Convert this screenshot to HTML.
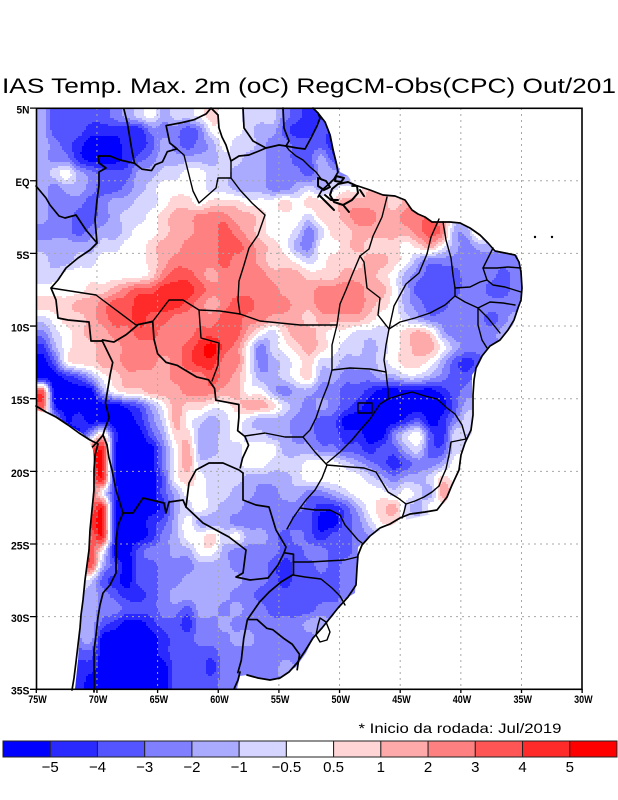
<!DOCTYPE html>
<html><head><meta charset="utf-8">
<style>
html,body{margin:0;padding:0;background:#fff;width:618px;height:800px;overflow:hidden}
svg{display:block}
text{font-family:"Liberation Sans",Arial,sans-serif;fill:#000}
</style></head>
<body>
<svg width="618" height="800" viewBox="0 0 618 800" xmlns="http://www.w3.org/2000/svg">
<defs>
<clipPath id="mk"><polygon points="36,108 312,108 318,112 326,122 331,135 334,150 337,162 340,172 348,176 352,182 358,186 370,190 383,195 395,196 405,200 412,210 418,214 425,217 432,222 440,222 457,223 470,228 480,235 488,243 495,251 505,253 517,255 520,265 522,288 519,308 513,325 500,341 487,348 478,366 472,375 472,433 463,447 460,473 452,487 447,500 437,513 400,521 390,526 377,532 367,539 358,547 357,567 355,593 343,600 333,616 323,627 316,633 306,653 296,667 289,672 280,678 270,680 258,678 247,675 240,676 237,689 75,689 78,660 80,630 82,610 84,590 87,565 90,540 92,515 93,490 94,465 93,450 89,441 83,434 69,425 56,418 46,413 36,410"/></clipPath>
</defs>
<rect width="618" height="800" fill="#fff"/>

<text x="2" y="93" font-size="21" textLength="614" lengthAdjust="spacingAndGlyphs">IAS Temp. Max. 2m (oC) RegCM-Obs(CPC) Out/201</text>

<g clip-path="url(#mk)"><g id="cells" shape-rendering="crispEdges"></g></g>

<g stroke="#a8a8a8" stroke-width="1" stroke-dasharray="2,4" fill="none">
<path d="M96.95 108V689M157.6 108V689M218.25 108V689M278.9 108V689M339.55 108V689M400.2 108V689M460.85 108V689M521.5 108V689"/>
<path d="M36 180.75H582M36 253.4H582M36 326.05H582M36 398.7H582M36 471.35H582M36 544H582M36 616.65H582"/>
</g>

<g fill="none" stroke="#000" stroke-width="1.7" stroke-linejoin="round" stroke-linecap="round">
<polyline points="313,108 318,113 325,122 330,135 333,150 336,162 338,172 334,179 329,184 322,190 318,197"/>
<polyline points="352,186 358,186 370,190 383,195 395,196 405,200 412,210 418,214 425,217 432,222 440,222 450,222 460,223 470,228 480,235 488,243 495,251 505,253 515,255 519,262 521,272 522,288 521,300 518,308 514,320 508,330 500,340 490,346 482,356 476,368 474,380 473,395 473,415 471,430 465,443 461,455 459,470 452,485 447,497 437,510 425,512 410,514 400,518 390,524 380,528 370,536 362,545 358,555 357,568 356,585 348,597 338,608 330,618 322,628 313,638 305,651 297,663 289,672 280,678 270,680 258,678 247,675"/>
<polyline points="240,672 238,680 234,689"/>
<polyline points="36,406 46,412 56,417 68,425 79,433 90,440 98,444 95,455 94,470 94,490 92,510 90,530 89,550 87,565 85,580 83,600 81,615 80,628 78,645 76,662 74,678 72,690"/>
<polyline stroke-width="2" points="332,189 338,184 348,182 357,186 358,193 352,200 343,205 334,202 330,195 332,189"/>
<polyline stroke-width="2" points="318,178 326,181 330,187 324,190 318,186 318,178"/>
<polyline stroke-width="2" points="336,176 344,178 341,182 335,181 336,176"/>
<polyline stroke-width="2" points="320,196 327,203 334,210"/>
<polyline stroke-width="2" points="344,206 349,212"/>
<polyline stroke-width="2" points="360,190 364,196"/>
<polyline stroke-width="2" points="325,195 331,200 338,200"/>
<polyline points="134.6,163.3 120,160 110,156 98,156 99,163 106,168 99,172 99,185 97,200 95,220 97,243 90,250 78,258 66,268 58,280 51,288 56,300 58,318 68,320 89,322 91,341 102,341"/>
<polyline points="97,243 86,230 76,215 65,218 59,216 50,205 46,198 36,186"/>
<polyline points="211,108 218,115 219,128 222,137 226,145 231,161 239,156 249,155 259,151 266,148 279,145 286,146 297,148 305,149 311,138 317,126 320,118 318,113"/>
<polyline points="243,108 244,128 253,141 266,148"/>
<polyline points="283,108 284,128 289,141 286,146"/>
<polyline points="103,435 107,445 109,458 112,470 116,490 123,513 118,525 116,540 116,573 110,585 103,593 100,605 98,617 96,635 94,650 94,670 94,692"/>
<polyline points="123,513 133,513 143,498 164,503 166,513 169,502 183,500 186,507"/>
<polyline points="186,507 189,483 196,470 209,463 223,463 239,470 243,473"/>
<polyline points="186,507 203,523 229,537 246,550 243,573 236,577 250,580 268,578 278,565 284,553"/>
<polyline points="243,473 243,500 256,505 269,507 276,530 286,547 284,553"/>
</g>
<g fill="none" stroke="#000" stroke-width="1.4" stroke-linejoin="round" stroke-linecap="round">
<polyline points="177,149 184,155 188,171 193,191 199,203 216,188 218,178 231,178 231,161"/>
<polyline points="231,178 240,190 252,203 265,215 258,235 249,248 244,265 239,281 238,300 240,314"/>
<polyline points="240,314 220,311 199,310 183,300 169,300 153,321 136,325 96,295 51,288"/>
<polyline points="199,310 201,338 219,343 218,365 212,381"/>
<polyline points="240,314 260,321 300,325 337,325"/>
<polyline points="360,256 352,275 346,290 340,304 337,325 332,345 332,370"/>
<polyline points="387,197 382,217 373,236 369,249 360,256"/>
<polyline points="360,256 364,262 367,288 380,298 378,315 389,329"/>
<polyline points="439,219 431,237 427,254 419,273 406,284 394,306 389,329"/>
<polyline points="443,222 446,240 451,258 453,275 455,288"/>
<polyline points="389,329 400,322 415,318 430,313 445,305 455,296 455,288"/>
<polyline points="493,248 488,258 483,268 487,280"/>
<polyline points="455,288 470,287 480,282 487,280"/>
<polyline points="483,268 497,268 508,267 521,268"/>
<polyline points="487,280 493,285 505,287 521,292"/>
<polyline points="455,296 465,302 478,308 490,302 503,303 515,305"/>
<polyline points="478,308 488,318 500,333"/>
<polyline points="478,308 478,325 482,340 487,348"/>
<polyline points="389,329 386,345 384,360 386,372 388,390 388,399"/>
<polyline points="332,370 350,368 370,369 386,372"/>
<polyline points="332,370 328,385 322,400 316,418 310,430 303,437 315,452 327,465"/>
<polyline points="388,399 400,395 412,392 425,396 437,399 447,408 455,414 462,425 466,439"/>
<polyline points="388,399 380,404 376,410 370,419 362,428 352,440 340,452 327,463"/>
<polyline points="358,403 372,403 372,413 358,413 358,403"/>
<polyline points="466,439 451,442 449,455 446,469 442,478 439,486"/>
<polyline points="439,486 432,492 424,497 415,501 406,504 404,512 402,518"/>
<polyline points="406,504 398,498 388,492 382,482 376,472 364,468 350,467 327,465"/>
<polyline points="245,436 265,433 285,437 303,437"/>
<polyline points="327,465 322,478 315,490 306,500 300,508 293,518 287,529"/>
<polyline points="300,508 315,510 330,510 340,515 345,525 352,533 358,540 362,543"/>
<polyline points="293,562 310,562 327,561 345,560 357,557"/>
<polyline points="293,575 305,577 321,579 332,588 340,596 345,605"/>
<polyline points="286,146 289,150 296,156 303,160 310,167 316,172 322,180"/>
<polyline points="320,618 326,622 330,632 327,640 320,642 316,635 318,625 320,618"/>
</g>
<g transform="translate(36.3,108.1) scale(12.13,-14.53) translate(75,-5)" fill="none" stroke="#000" stroke-linejoin="round">
<polyline vector-effect="non-scaling-stroke" stroke-width="1.7" points="-67.8,5 -67.5,4 -67.3,3 -67.1,2 -66.9,1.2 -66.3,0.8 -65.5,0.7 -65.2,1.1 -64.6,1.3 -64.2,2 -63.4,2.2 -64,2.6 -64.3,3.8 -63,4 -62,4.2 -61,4.6 -60.6,5"/>
<polyline vector-effect="non-scaling-stroke" stroke-width="1.7" points="-69.6,-10.95 -68.7,-12.5 -68.9,-13.3 -69.1,-14.3 -69.3,-15.3 -69.0,-16.3 -69.4,-17.2 -69.5,-17.5 -70.0,-18.0 -70.4,-18.35"/>
<polyline vector-effect="non-scaling-stroke" stroke-width="1.7" points="-69.6,-10.95 -68.6,-11.1 -67.6,-10.6 -66.6,-9.9 -65.4,-9.7 -65.3,-10.9 -65.0,-11.9 -64.3,-12.5 -63.4,-12.7 -62.8,-13.0 -61.8,-13.5 -60.8,-13.7 -60.3,-14.3 -60.2,-15.1 -58.3,-15.4 -58.3,-16.3 -58.4,-17.2 -57.8,-17.6 -57.5,-18.2 -58.0,-19.1 -58.2,-19.8"/>
<polyline vector-effect="non-scaling-stroke" stroke-width="1.7" points="-54.6,-25.6 -53.8,-25.7 -53.8,-27.1 -54.8,-27.6 -55.8,-28.3 -56.6,-29.0 -57.6,-30.2"/>
<polyline vector-effect="non-scaling-stroke" stroke-width="1.7" points="-57.6,-30.2 -57.9,-31.5 -58.1,-33 -58.4,-33.9"/>
<polyline vector-effect="non-scaling-stroke" stroke-width="1.7" points="-57.6,-30.2 -56.8,-30.2 -56,-30.8 -55.5,-30.9 -54.6,-31.5 -53.9,-31.9 -53.3,-32.6 -53.5,-33.7"/>
</g>
<circle cx="535" cy="237" r="1.2" fill="#000"/>
<circle cx="552" cy="237" r="1.2" fill="#000"/>

<rect x="36.5" y="108.3" width="545.5" height="581" fill="none" stroke="#000" stroke-width="1.6"/>
<g stroke="#000" stroke-width="1.3">
<path d="M30 108.1H36.5M30 180.75H36.5M30 253.4H36.5M30 326.05H36.5M30 398.7H36.5M30 471.35H36.5M30 544H36.5M30 616.65H36.5M30 689.3H36.5"/>
<path d="M36.3 689V693M96.95 689V693M157.6 689V693M218.25 689V693M278.9 689V693M339.55 689V693M400.2 689V693M460.85 689V693M521.5 689V693M582.15 689V693"/>
</g>

<g font-size="11" font-weight="bold" text-anchor="end">
<text x="29.5" y="113.6" textLength="13" lengthAdjust="spacingAndGlyphs">5N</text>
<text x="29.5" y="186.2" textLength="14" lengthAdjust="spacingAndGlyphs">EQ</text>
<text x="29.5" y="258.9" textLength="13" lengthAdjust="spacingAndGlyphs">5S</text>
<text x="29.5" y="331.5" textLength="18.5" lengthAdjust="spacingAndGlyphs">10S</text>
<text x="29.5" y="404.2" textLength="18.5" lengthAdjust="spacingAndGlyphs">15S</text>
<text x="29.5" y="476.8" textLength="18.5" lengthAdjust="spacingAndGlyphs">20S</text>
<text x="29.5" y="549.5" textLength="18.5" lengthAdjust="spacingAndGlyphs">25S</text>
<text x="29.5" y="622.1" textLength="18.5" lengthAdjust="spacingAndGlyphs">30S</text>
<text x="29.5" y="694.5" textLength="18.5" lengthAdjust="spacingAndGlyphs">35S</text>
</g>
<g font-size="11" font-weight="bold">
<text x="28.3" y="703" textLength="18.5" lengthAdjust="spacingAndGlyphs">75W</text>
<text x="88.9" y="703" textLength="18.5" lengthAdjust="spacingAndGlyphs">70W</text>
<text x="149.6" y="703" textLength="18.5" lengthAdjust="spacingAndGlyphs">65W</text>
<text x="210.2" y="703" textLength="18.5" lengthAdjust="spacingAndGlyphs">60W</text>
<text x="270.9" y="703" textLength="18.5" lengthAdjust="spacingAndGlyphs">55W</text>
<text x="331.5" y="703" textLength="18.5" lengthAdjust="spacingAndGlyphs">50W</text>
<text x="392.2" y="703" textLength="18.5" lengthAdjust="spacingAndGlyphs">45W</text>
<text x="452.8" y="703" textLength="18.5" lengthAdjust="spacingAndGlyphs">40W</text>
<text x="513.5" y="703" textLength="18.5" lengthAdjust="spacingAndGlyphs">35W</text>
<text x="574.1" y="703" textLength="18.5" lengthAdjust="spacingAndGlyphs">30W</text>
</g>

<text x="358.5" y="733" font-size="14" textLength="203" lengthAdjust="spacingAndGlyphs">* Inicio da rodada: Jul/2019</text>

<g stroke="#222" stroke-width="1">
<rect x="3" y="741" width="47.23" height="16" fill="#0000ff"/>
<rect x="50.23" y="741" width="47.23" height="16" fill="#2a2aff"/>
<rect x="97.46" y="741" width="47.23" height="16" fill="#5555ff"/>
<rect x="144.69" y="741" width="47.23" height="16" fill="#8080ff"/>
<rect x="191.92" y="741" width="47.23" height="16" fill="#aaaaff"/>
<rect x="239.15" y="741" width="47.23" height="16" fill="#d5d5ff"/>
<rect x="286.38" y="741" width="47.23" height="16" fill="#ffffff"/>
<rect x="333.61" y="741" width="47.23" height="16" fill="#ffd5d5"/>
<rect x="380.84" y="741" width="47.23" height="16" fill="#ffaaaa"/>
<rect x="428.07" y="741" width="47.23" height="16" fill="#ff8080"/>
<rect x="475.3" y="741" width="47.23" height="16" fill="#ff5555"/>
<rect x="522.53" y="741" width="47.23" height="16" fill="#ff2a2a"/>
<rect x="569.76" y="741" width="47.23" height="16" fill="#ff0000"/>
</g>
<g font-size="15" text-anchor="middle">
<text x="50.2" y="772">−5</text>
<text x="97.5" y="772">−4</text>
<text x="144.7" y="772">−3</text>
<text x="191.9" y="772">−2</text>
<text x="239.2" y="772">−1</text>
<text x="286.4" y="772">−0.5</text>
<text x="333.6" y="772">0.5</text>
<text x="380.8" y="772">1</text>
<text x="428.1" y="772">2</text>
<text x="475.3" y="772">3</text>
<text x="522.5" y="772">4</text>
<text x="569.8" y="772">5</text>
</g>
</svg>
<script>
(function(){
var R=[
"ECCCCCDEFWEFFW1WWFFFDCB",
"ECCCBBBBBDDDCDWWWFEECBBCBC",
"EDCBAAABBCEDCDEWFFEDDCCCBC",
"EDDBAAABCDEEEEEFFEEDDCC"+"ECD",
"EFWEDCCCEEFFWWFFEEEDDDC"+"EED",
"EDEEDCCDEFWWWWFFEEEDDEF"+"EFWW",
"EDDDCDEEFF"+"W11W111WWW"+"1W1"+"11222212",
"EDDCCDEFFW"+"122333221W"+"WWF1123322"+"334",
"DDDCDEEFWW"+"122334321W"+"WFDF112222"+"2343EE1",
"EEEEEFFWW1"+"2233344321"+"WEDWW12111"+"W12WEDEE",
"FEEFFWWWW1"+"2333343321"+"1WFW111221"+"WEDDDDDDDD",
"FFWWWWWWW1"+"3443233332"+"221112221W"+"EDCCCDDDCDD",
"WWWW112344"+"5554333333"+"222333322W"+"ECCCCDDCCDD",
"1112234455"+"5543234433"+"322333321W"+"EDCCDDDDDDD",
"FW11234454"+"4333344332"+"22122221WW"+"FEDDDDDCDE",
"DFW1223344"+"33344442WF"+"1221WWFFFW"+"121EDDDDE",
"BEW1122333"+"3345643WDF"+"W121WFFEFW"+"122WEDD",
"ACW1122333"+"2345533WDE"+"FW1FFEEEFW"+"11WECBC",
"AABCEW1222"+"2333432WEE"+"FW1EEDDDEE"+"FFEDCCD",
"4AAAAEW112"+"2233322WWE"+"DEEDDCCBAA"+"AAABCD",
"4BAAAAABCE"+"W211WW1221"+"FEDEDCBAAA"+"AAAACE",
"...BAAAABD"+"F2WFEFWFEE"+"EDDCCAAAAA"+"BCABDF",
".....1BAAC"+"E11EEFWFFE"+"EDDCCBBAAD"+"FWCBF",
".....5BAAA"+"DW2EEFFWWW"+"EEEDDCCBCC"+"EFCCF",
".....5BAAA"+"DW2FFFFWWF"+"FFWWWFEDCB"+"CDDEW",
".....5BAAA"+"CW1WFFFEEE"+"EFWWWWWFED"+"EEF1W",
".....WBAAA"+"CEWWFFEEDD"+"EEDDEFWWWF"+"WFE2",
".....5BAAA"+"BEFWFEEDDD"+"DDCBBCEW12"+"FEW",
".....5BAAB"+"CEWEEEDDDD"+"DCCAACDF",
".....5BAAB"+"DEWW1FWEED"+"CDCBCCD",
"....4WAACD"+"DEEWWEDDDD"+"CCDDCCD",
"....4ECACC"+"DDDEEEDDDC"+"BCCDCDD",
"....FCBACC"+"DDEEEEEDDC"+"BCCCCD",
"....EDCBBC"+"DEEEEEDDCC"+"CCCCCD",
"....EDDCCC"+"DDCEEDEDDC"+"CCCDD",
"....ECBAAB"+"CCBDDEDDDD"+"DDEE",
"....EAAAAA"+"BCCDDDEEDD"+"DDD",
"....CAAAAA"+"BCCCCDDDDD"+"DD",
"...BBAAAAA"+"ACCCBDDDDD"+"E",
"...BAAAAAA"+"ACCCCD"
];
var L={A:0,B:1,C:2,D:3,E:4,F:5,W:6,'1':7,'2':8,'3':9,'4':10,'5':11,'6':12};
var COL=['#0000ff','#2a2aff','#5555ff','#8080ff','#aaaaff','#d5d5ff','#ffffff','#ffd5d5','#ffaaaa','#ff8080','#ff5555','#ff2a2a','#ff0000'];
var NR=R.length,NC=45,G=[],r,c,k;
for(r=0;r<NR;r++){G[r]=[];for(c=0;c<NC;c++){var ch=R[r].charAt(c);G[r][c]=(ch&&ch!=='.'&&L.hasOwnProperty(ch))?L[ch]:null;}}
for(k=0;k<8;k++){var N=[];for(r=0;r<NR;r++){N[r]=G[r].slice();for(c=0;c<NC;c++){if(G[r][c]!==null)continue;var s=0,n=0;for(var dr=-1;dr<=1;dr++)for(var dc=-1;dc<=1;dc++){var rr=r+dr,cc=c+dc;if(rr<0||cc<0||rr>=NR||cc>=NC)continue;if(G[rr][cc]!==null){s+=G[rr][cc];n++;}}if(n>0)N[r][c]=s/n;}}G=N;}
for(r=0;r<NR;r++)for(c=0;c<NC;c++)if(G[r][c]===null)G[r][c]=6;
function cl(a,lo,hi){return a<lo?lo:(a>hi?hi:a);}
function cr(p0,p1,p2,p3,t){return p1+0.5*t*(p2-p0+t*(2*p0-5*p1+4*p2-p3+t*(3*(p1-p2)+p3-p0)));}
function val(px,py){
 var u=cl((px-36.3)/12.13-0.5,0,NC-1),v=cl((py-108.1)/14.53-0.5,0,NR-1);
 var i=Math.floor(u),j=Math.floor(v);if(i>NC-2)i=NC-2;if(j>NR-2)j=NR-2;
 var fx=u-i,fy=v-j,rowv=[];
 for(var m=-1;m<=2;m++){var rr=cl(j+m,0,NR-1),g=G[rr];
  rowv.push(cr(g[cl(i-1,0,NC-1)],g[i],g[i+1],g[cl(i+2,0,NC-1)],fx));}
 var x=cr(rowv[0],rowv[1],rowv[2],rowv[3],fy);
 return cl(Math.round(x),0,12);
}
var g=document.getElementById('cells'),ns='http://www.w3.org/2000/svg',S=2;
for(var py=108;py<690;py+=S){
 var cur=null,start=36;
 for(var px=36;px<=584;px+=S){
  var lv=(px<584)?val(px+S/2,py+S/2):-1;
  if(lv!==cur){
   if(cur!==null&&cur>=0){var e=document.createElementNS(ns,'rect');e.setAttribute('x',start);e.setAttribute('y',py);e.setAttribute('width',px-start);e.setAttribute('height',S);e.setAttribute('fill',COL[cur]);g.appendChild(e);}
   cur=lv;start=px;
  }
 }
}
})();
</script>
</body></html>
